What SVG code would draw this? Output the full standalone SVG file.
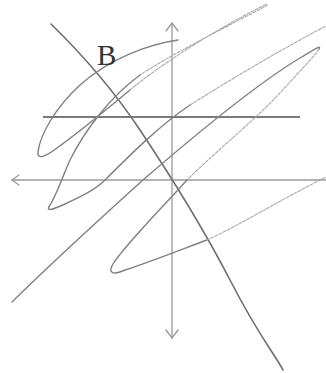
<svg xmlns="http://www.w3.org/2000/svg" width="326" height="373" viewBox="0 0 326 373">
<style>
.axis{fill:none;stroke:#9a9a9a;stroke-width:1.3;stroke-linecap:round;stroke-linejoin:round}
.hline{fill:none;stroke:#7a7a7a;stroke-width:2.2}
.bcurve{fill:none;stroke:#6e6e6e;stroke-width:1.6;stroke-linecap:round}
.z{fill:none;stroke:#808080;stroke-width:1.4;stroke-linecap:round}
.zf{fill:none;stroke:#a8a8a8;stroke-width:1.1;stroke-linecap:round;stroke-dasharray:3 1.5}
.lbl{font-family:"Liberation Serif","DejaVu Serif",serif;font-size:29px;fill:#333}
</style>
<rect width="326" height="373" fill="#ffffff"/>
<g id="connectors">
  <g id="axes">
    <path class="axis" d="M172,23 L172,338"/>
    <path class="axis" d="M166,31 L172,23 L178,31"/>
    <path class="axis" d="M166,330 L172,338 L178,330"/>
    <path class="axis" d="M12,180 L326,180"/>
    <path class="axis" d="M19,175 L12,180 L19,185"/>
  </g>
  <path id="hline" class="hline" d="M43,117 L300,117"/>
  <path id="curveB" class="bcurve" d="M51,24 C90,62 120,100 140,130 S200,222 230,280 S272,350 283,370"/>
  <g id="zigzag">
    <path class="z" d="M12,302 C60,255 110,210 143,180 C180,148 250,88 300,58 C312,51 322,44 319,49"/>
    <path class="zf" d="M319,49 C315,56 295,76 280,93 C255,120 215,152 187,180"/>
    <path class="z" d="M187,180 C160,210 125,245 113,264 C107,274 114,275 125,270 C150,262 185,248 207,240"/>
    <path class="zf" d="M207,240 C240,225 280,200 326,177"/>
    <path class="z" d="M178,40 C150,44 110,58 80,85 C55,108 40,135 38,152 C37,160 45,157 57,148 C75,135 100,115 130,90"/>
    <path class="zf" d="M130,90 C160,65 215,30 255,10 C262,6 270,2 266,6 C230,25 170,55 140,75"/>
    <path class="z" d="M140,75 C110,97 85,130 70,160 C62,178 56,196 50,205 C45,212 52,210 65,204 C80,197 95,190 105,180 C130,155 160,125 190,105"/>
    <path class="zf" d="M190,105 C230,80 280,50 326,26"/>
  </g>
</g>
<g id="label-B">
  <text class="lbl" x="97" y="65">B</text>
</g>
</svg>
